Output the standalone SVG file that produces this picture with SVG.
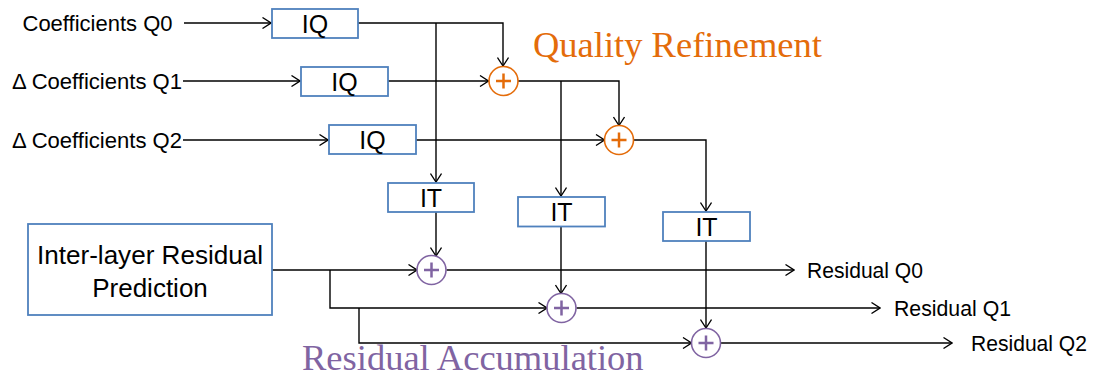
<svg xmlns="http://www.w3.org/2000/svg" width="1098" height="378" viewBox="0 0 1098 378">
  <defs>
    <marker id="arrow" viewBox="0 0 10 12" refX="9.5" refY="6" markerWidth="10" markerHeight="12" markerUnits="userSpaceOnUse" orient="auto">
      <path d="M1,0.5 L9.5,6 L1,11.5" fill="none" stroke="#000" stroke-width="1.3"/>
    </marker>
    <style>
      .box { fill: #fff; stroke: #4f81bd; stroke-width: 1.8; }
      .lbl { font-family: "Liberation Sans", Arial, sans-serif; font-size: 22.5px; fill: #000; }
      .blk { font-family: "Liberation Sans", Arial, sans-serif; font-size: 25px; fill: #000; text-anchor: middle; }
      .big { font-family: "Liberation Sans", Arial, sans-serif; font-size: 26px; fill: #000; text-anchor: middle; }
      .title { font-family: "Liberation Serif", "Times New Roman", serif; font-size: 36.5px; }
      .wire { fill: none; stroke: #000; stroke-width: 1.4; }
      .arr { marker-end: url(#arrow); }
      .sumq circle { fill: #fff; stroke: #e46c0a; stroke-width: 1.6; }
      .sumq path { stroke: #e46c0a; stroke-width: 2.5; }
      .suma circle { fill: #fff; stroke: #8064a2; stroke-width: 1.6; }
      .suma path { stroke: #8064a2; stroke-width: 2.5; }
    </style>
  </defs>
  <rect width="1098" height="378" fill="#fff"/>

  <!-- connectors -->
  <g id="connectors" class="wire">
    <path class="arr" d="M184,23 H271"/>
    <path class="arr" d="M183,81 H300"/>
    <path class="arr" d="M183,140 H328"/>
    <path class="arr" d="M358,23 H503 V66"/>
    <path class="arr" d="M436,23 V182"/>
    <path class="arr" d="M388,81 H488.5"/>
    <path class="arr" d="M518,81 H619 V125.5"/>
    <path class="arr" d="M561,81 V196"/>
    <path class="arr" d="M416,140 H604.5"/>
    <path class="arr" d="M633.5,140 H706 V211"/>
    <path class="arr" d="M436,212 V256"/>
    <path class="arr" d="M561,226.5 V293.5"/>
    <path class="arr" d="M706,241 V328"/>
    <path class="arr" d="M272,270 H417"/>
    <path class="arr" d="M446.5,270 H794"/>
    <path class="arr" d="M330,270 V308 H547"/>
    <path class="arr" d="M576.5,308 H880"/>
    <path class="arr" d="M359,308 V343 H691.5"/>
    <path class="arr" d="M720.5,343 H952"/>
  </g>

  <!-- input and output labels -->
  <g id="labels">
    <text class="lbl" x="22.5" y="31" textLength="150" lengthAdjust="spacingAndGlyphs">Coefficients Q0</text>
    <text class="lbl" x="12" y="89" textLength="170" lengthAdjust="spacingAndGlyphs">Δ Coefficients Q1</text>
    <text class="lbl" x="12" y="148" textLength="170" lengthAdjust="spacingAndGlyphs">Δ Coefficients Q2</text>
    <text class="lbl" x="807" y="278" textLength="116" lengthAdjust="spacingAndGlyphs">Residual Q0</text>
    <text class="lbl" x="894" y="316" textLength="117" lengthAdjust="spacingAndGlyphs">Residual Q1</text>
    <text class="lbl" x="971" y="351" textLength="116" lengthAdjust="spacingAndGlyphs">Residual Q2</text>
  </g>

  <!-- inverse quantisation blocks -->
  <g id="iq0"><rect class="box" x="272" y="9" width="86" height="29"/><text class="blk" x="315" y="32.5">IQ</text></g>
  <g id="iq1"><rect class="box" x="301" y="67" width="87" height="29"/><text class="blk" x="344.5" y="90.5">IQ</text></g>
  <g id="iq2"><rect class="box" x="329" y="125" width="87" height="29"/><text class="blk" x="372.5" y="148.5">IQ</text></g>

  <!-- inverse transform blocks -->
  <g id="it0"><rect class="box" x="388" y="183" width="86" height="29"/><text class="blk" x="431" y="206.5">IT</text></g>
  <g id="it1"><rect class="box" x="518" y="197" width="87" height="29.5"/><text class="blk" x="561.5" y="221">IT</text></g>
  <g id="it2"><rect class="box" x="663" y="212" width="87" height="29"/><text class="blk" x="706.5" y="235.5">IT</text></g>

  <!-- inter-layer residual prediction -->
  <g id="irp">
    <rect class="box" x="28" y="224" width="244" height="91"/>
    <text class="big" x="150" y="264" textLength="226" lengthAdjust="spacingAndGlyphs">Inter-layer Residual</text>
    <text class="big" x="150" y="297">Prediction</text>
  </g>

  <!-- quality refinement adders -->
  <g id="qsum0" class="sumq"><circle cx="503.5" cy="81" r="14.5"/><path d="M496,81 H511 M503.5,73.5 V88.5"/></g>
  <g id="qsum1" class="sumq"><circle cx="619" cy="140" r="14.5"/><path d="M611.5,140 H626.5 M619,132.5 V147.5"/></g>

  <!-- residual accumulation adders -->
  <g id="asum0" class="suma"><circle cx="431.5" cy="270" r="14.5"/><path d="M424,270 H439 M431.5,262.5 V277.5"/></g>
  <g id="asum1" class="suma"><circle cx="561.5" cy="308" r="14.5"/><path d="M554,308 H569 M561.5,300.5 V315.5"/></g>
  <g id="asum2" class="suma"><circle cx="706" cy="343" r="14.5"/><path d="M698.5,343 H713.5 M706,335.5 V350.5"/></g>

  <!-- section titles -->
  <g id="titles">
    <text class="title" x="533" y="57" fill="#e46c0a">Quality Refinement</text>
    <text class="title" x="302" y="370" fill="#8064a2">Residual Accumulation</text>
  </g>
</svg>
